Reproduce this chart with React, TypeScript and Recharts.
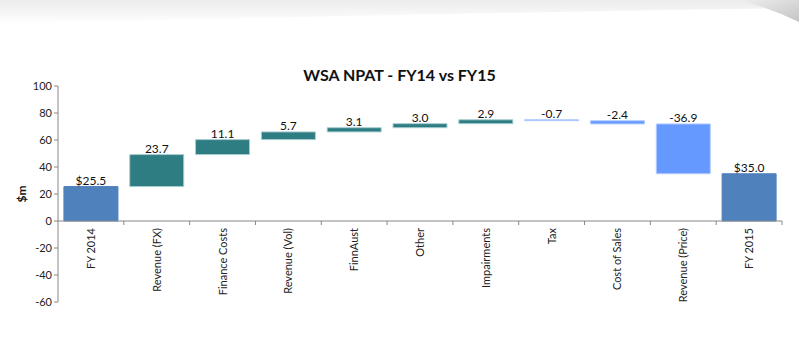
import { BarChart, Bar, XAxis, YAxis, Cell, LabelList, ReferenceLine, Label } from 'recharts';

const categories = ['FY 2014', 'Revenue (FX)', 'Finance Costs', 'Revenue (Vol)', 'FinnAust', 'Other', 'Impairments', 'Tax', 'Cost of Sales', 'Revenue (Price)', 'FY 2015'];
const movements = [25.5, 23.7, 11.1, 5.7, 3.1, 3.0, 2.9, -0.7, -2.4, -36.9, 35.0];
const totals = [true, false, false, false, false, false, false, false, false, false, true];
const yTicks = [-60, -40, -20, 0, 20, 40, 60, 80, 100];

const Y_MIN = -60;
const Y_MAX = 100;
const TOP = 86;
const BOTTOM = 50;
const H = 352;

// build the waterfall table: invisible base + visible step
let running = 0;
const rows = categories.map((name, i) => {
  const d = movements[i];
  if (totals[i]) {
    running = d;
    return { name, base: 0, step: d, delta: d, total: true };
  }
  const start = running;
  running = start + d;
  return { name, base: Math.min(start, running), step: Math.abs(d), delta: d, total: false };
});

const fillFor = (r: any) => (r.total ? '#4f81bd' : r.delta >= 0 ? '#2e7d82' : '#6699ff');
const strokeFor = (r: any) => (r.total ? '#4f81bd' : r.delta >= 0 ? '#a8cdd0' : '#b3ccff');

const font = 'Lato, "Open Sans", sans-serif';

const zeroY = TOP + ((Y_MAX - 0) / (Y_MAX - Y_MIN)) * (H - TOP - BOTTOM);

const CatTick = (props: any) => {
  const { x, payload } = props;
  const band = 724 / categories.length;
  return (
    <g>
      <line x1={x + band / 2} x2={x + band / 2} y1={zeroY} y2={zeroY + 4} stroke="#888" />
      <text
        transform={`translate(${x + 4},${zeroY + 7}) rotate(-90)`}
        textAnchor="end"
        fontSize={11}
        fill="#222"
        fontFamily={font}
      >
        {payload.value}
      </text>
    </g>
  );
};

const StepLabel = (props: any) => {
  const { x, y, width, index } = props;
  const r = rows[index];
  const txt = r.total ? `$${r.delta.toFixed(1)}` : r.delta.toFixed(1);
  return (
    <text x={x + width / 2} y={y - 2} textAnchor="middle" fontSize={12} fill="#111" fontFamily={font}>
      {txt}
    </text>
  );
};

export default function App() {
  return (
    <div style={{ position: 'fixed', left: 0, top: 0, width: 799, height: 352, background: '#fff', overflow: 'hidden' }}>
      <svg width={799} height={352} style={{ position: 'absolute', left: 0, top: 0 }}>
        <defs>
          <linearGradient id="topfade" x1="0" y1="0" x2="0" y2="1">
            <stop offset="0" stopColor="#ececec" />
            <stop offset="1" stopColor="#ffffff" />
          </linearGradient>
          <linearGradient id="corner" x1="0" y1="0" x2="1" y2="1">
            <stop offset="0" stopColor="#eeeeee" />
            <stop offset="1" stopColor="#c4c4c4" />
          </linearGradient>
        </defs>
        <path d="M0,0 L799,0 L799,8 Q400,14 0,24 Z" fill="url(#topfade)" />
        <path d="M740,0 L799,0 L799,22 Q770,8 740,0 Z" fill="url(#corner)" />
      </svg>
      <div
        style={{
          position: 'absolute',
          left: 0,
          top: 65,
          width: 799,
          textAlign: 'center',
          fontFamily: font,
          fontWeight: 700,
          fontSize: 16,
          color: '#111',
        }}
      >
        WSA NPAT - FY14 vs FY15
      </div>
      <div style={{ position: 'absolute', left: 0, top: 0 }}>
        <BarChart
          width={799}
          height={H}
          data={rows}
          margin={{ top: TOP, right: 17, bottom: 10, left: 0 }}
          barCategoryGap="9%"
        >
          <XAxis dataKey="name" axisLine={false} tickLine={false} tick={<CatTick />} height={BOTTOM - 10} interval={0} />
          <YAxis
            domain={[Y_MIN, Y_MAX]}
            ticks={yTicks}
            width={58}
            axisLine={{ stroke: '#888' }}
            tickLine={{ stroke: '#888' }}
            tickSize={4}
            tick={{ fontSize: 11, fill: '#222', fontFamily: font }}
          >
            <Label
              value="$m"
              angle={-90}
              position="insideLeft"
              offset={22}
              style={{ fontSize: 12, fontWeight: 700, fill: '#111', fontFamily: font, textAnchor: 'middle' }}
            />
          </YAxis>
          <ReferenceLine y={0} stroke="#888" />
          <Bar dataKey="base" stackId="w" fill="transparent" isAnimationActive={false} />
          <Bar dataKey="step" stackId="w" isAnimationActive={false}>
            {rows.map((r, i) => (
              <Cell key={i} fill={fillFor(r)} stroke={strokeFor(r)} strokeWidth={1} />
            ))}
            <LabelList dataKey="step" content={<StepLabel />} />
          </Bar>
        </BarChart>
      </div>
    </div>
  );
}
